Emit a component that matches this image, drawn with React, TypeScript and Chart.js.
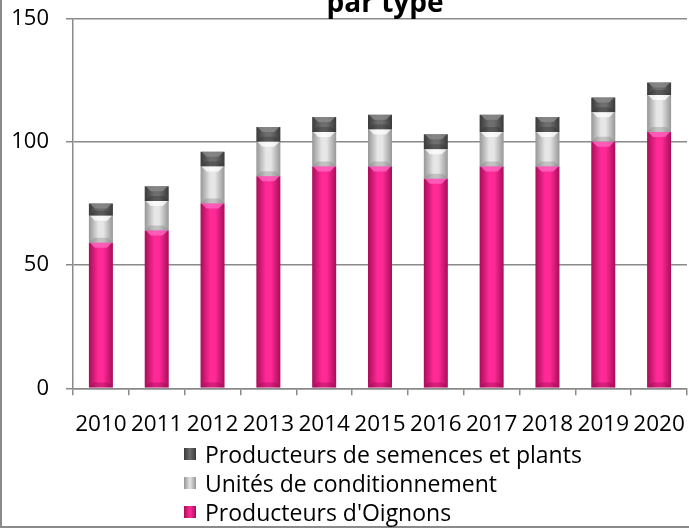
import React, { useEffect, useRef } from "react";
import { Chart, registerables } from "chart.js";

Chart.register(...registerables);

const years = ["2010", "2011", "2012", "2013", "2014", "2015", "2016", "2017", "2018", "2019", "2020"];
const oignons = [59, 64, 75, 86, 90, 90, 85, 90, 90, 100, 104];
const unites = [11, 12, 15, 14, 14, 15, 12, 14, 14, 12, 15];
const semences = [5, 6, 6, 6, 6, 6, 6, 7, 6, 6, 5];
const yTicks = [0, 50, 100, 150];
const titleText = "par type";
const seriesNames = ["Producteurs d'Oignons", "Unités de conditionnement", "Producteurs de semences et plants"];

const FONT = "'Open Sans', 'Noto Sans', sans-serif";
const GRID = "#8a8a8a";

const palettes = [
  { edge: "#a80d59", mid: "#ff2a96", top: "#ff6cc6", bottom: "#8a0a4a" },
  { edge: "#969696", mid: "#e6e6e6", top: "#ffffff", bottom: "#7d7d7d" },
  { edge: "#3a3a3a", mid: "#6e6e6e", top: "#8e8e8e", bottom: "#2e2e2e" },
];

function makeGradient(pi: number) {
  return (ctx: any) => {
    const chart = ctx.chart;
    const xs = chart.scales && chart.scales.x;
    if (!xs || ctx.dataIndex === undefined) return palettes[pi].mid;
    const cx = xs.getPixelForValue(ctx.dataIndex);
    if (!isFinite(cx)) return palettes[pi].mid;
    const half = 12;
    const g = chart.ctx.createLinearGradient(cx - half, 0, cx + half, 0);
    g.addColorStop(0, palettes[pi].edge);
    g.addColorStop(0.4, palettes[pi].mid);
    g.addColorStop(0.6, palettes[pi].mid);
    g.addColorStop(1, palettes[pi].edge);
    return g;
  };
}

const bevelPlugin = {
  id: "bevel",
  afterDatasetsDraw(chart: any) {
    const c = chart.ctx;
    chart.data.datasets.forEach((_: any, di: number) => {
      const meta = chart.getDatasetMeta(di);
      const pal = palettes[di];
      meta.data.forEach((el: any) => {
        const { x, y, base, width } = el.getProps(["x", "y", "base", "width"], true);
        if (![x, y, base, width].every((v) => isFinite(v))) return;
        const left = x - width / 2;
        const right = x + width / 2;
        const top = Math.min(y, base);
        const bot = Math.max(y, base);
        const b = Math.min(5, (bot - top) / 2);
        c.save();
        c.globalAlpha = 0.75;
        c.fillStyle = pal.top;
        c.beginPath();
        c.moveTo(left + 1, top);
        c.lineTo(right - 1, top);
        c.lineTo(right - 1 - b, top + b);
        c.lineTo(left + 1 + b, top + b);
        c.closePath();
        c.fill();
        c.globalAlpha = 0.35;
        c.fillStyle = pal.bottom;
        c.beginPath();
        c.moveTo(left, bot);
        c.lineTo(right, bot);
        c.lineTo(right - b, bot - b);
        c.lineTo(left + b, bot - b);
        c.closePath();
        c.fill();
        c.restore();
      });
    });
  },
};

const CW = 770;
const CH = 480;
const CTOP = -40;
const AREA_TOP = 57.3;
const AREA_BOTTOM = 428.3;
const TITLE_SIZE = 28;
const TITLE_PAD_TOP = 30.5;

export default function App() {
  const ref = useRef<HTMLCanvasElement | null>(null);
  useEffect(() => {
    if (!ref.current) return;
    const chart = new Chart(ref.current, {
      type: "bar",
      data: {
        labels: years,
        datasets: [
          { label: seriesNames[0], data: oignons, backgroundColor: makeGradient(0) as any, barPercentage: 0.43, categoryPercentage: 1 },
          { label: seriesNames[1], data: unites, backgroundColor: makeGradient(1) as any, barPercentage: 0.43, categoryPercentage: 1 },
          { label: seriesNames[2], data: semences, backgroundColor: makeGradient(2) as any, barPercentage: 0.43, categoryPercentage: 1 },
        ],
      },
      plugins: [bevelPlugin],
      options: {
        responsive: false,
        animation: false,
        layout: { padding: { top: 0, left: 0, right: 0, bottom: 0 } },
        plugins: {
          legend: { display: false },
          tooltip: { enabled: false },
          title: {
            display: true,
            text: titleText,
            color: "#000",
            font: { family: FONT, size: TITLE_SIZE, weight: "bold", lineHeight: 1 },
            padding: { top: TITLE_PAD_TOP, bottom: Math.max(0, AREA_TOP - TITLE_PAD_TOP - TITLE_SIZE) },
          },
        },
        scales: {
          x: {
            stacked: true,
            grid: { display: true, drawOnChartArea: false, drawTicks: true, tickLength: 7, color: GRID, lineWidth: 1.5, offset: true },
            border: { display: true, color: GRID, width: 1.5 },
            ticks: { color: "#000", font: { family: FONT, size: 22.5 }, padding: 16, maxRotation: 0, autoSkip: false },
            afterFit: (s: any) => { s.height = CH - AREA_BOTTOM; },
          },
          y: {
            stacked: true,
            min: 0,
            max: 150,
            afterBuildTicks: (s: any) => { s.ticks = yTicks.map((v) => ({ value: v })); },
            grid: { color: GRID, lineWidth: 1.5, tickLength: 7 },
            border: { display: true, color: GRID, width: 1.5 },
            ticks: { color: "#000", font: { family: FONT, size: 22 }, padding: 17 },
            afterFit: (s: any) => { s.width = 73; },
          },
          y2: {
            position: "right",
            display: true,
            grid: { display: false },
            border: { display: false },
            ticks: { display: false },
            afterFit: (s: any) => { s.width = CW - 687; },
          },
        },
      },
    });
    return () => chart.destroy();
  }, []);

  const legendRows = [
    { name: seriesNames[2], pi: 2, cy: 454 },
    { name: seriesNames[1], pi: 1, cy: 483 },
    { name: seriesNames[0], pi: 0, cy: 512 },
  ];

  return (
    <div style={{ position: "fixed", left: 0, top: 0, width: 689, height: 529, overflow: "hidden", background: "#fff" }}>
      <div style={{ position: "absolute", left: 0, top: -60, width: 900, height: 588, border: "2px solid #8a8a8a", boxSizing: "border-box" }} />
      <canvas ref={ref} width={CW} height={CH} style={{ position: "absolute", left: 0, top: CTOP, width: CW, height: CH }} />
      {legendRows.map((r) => (
        <div key={r.name} style={{ position: "absolute", left: 184, top: r.cy - 15, height: 30, display: "flex", alignItems: "center", whiteSpace: "nowrap" }}>
          <span style={{ display: "inline-block", width: 12, height: 12, background: `linear-gradient(90deg, ${palettes[r.pi].edge}, ${palettes[r.pi].mid} 50%, ${palettes[r.pi].edge})`, marginRight: 9 }} />
          <span style={{ fontFamily: FONT, fontSize: 23, color: "#000", lineHeight: "30px" }}>{r.name}</span>
        </div>
      ))}
    </div>
  );
}
